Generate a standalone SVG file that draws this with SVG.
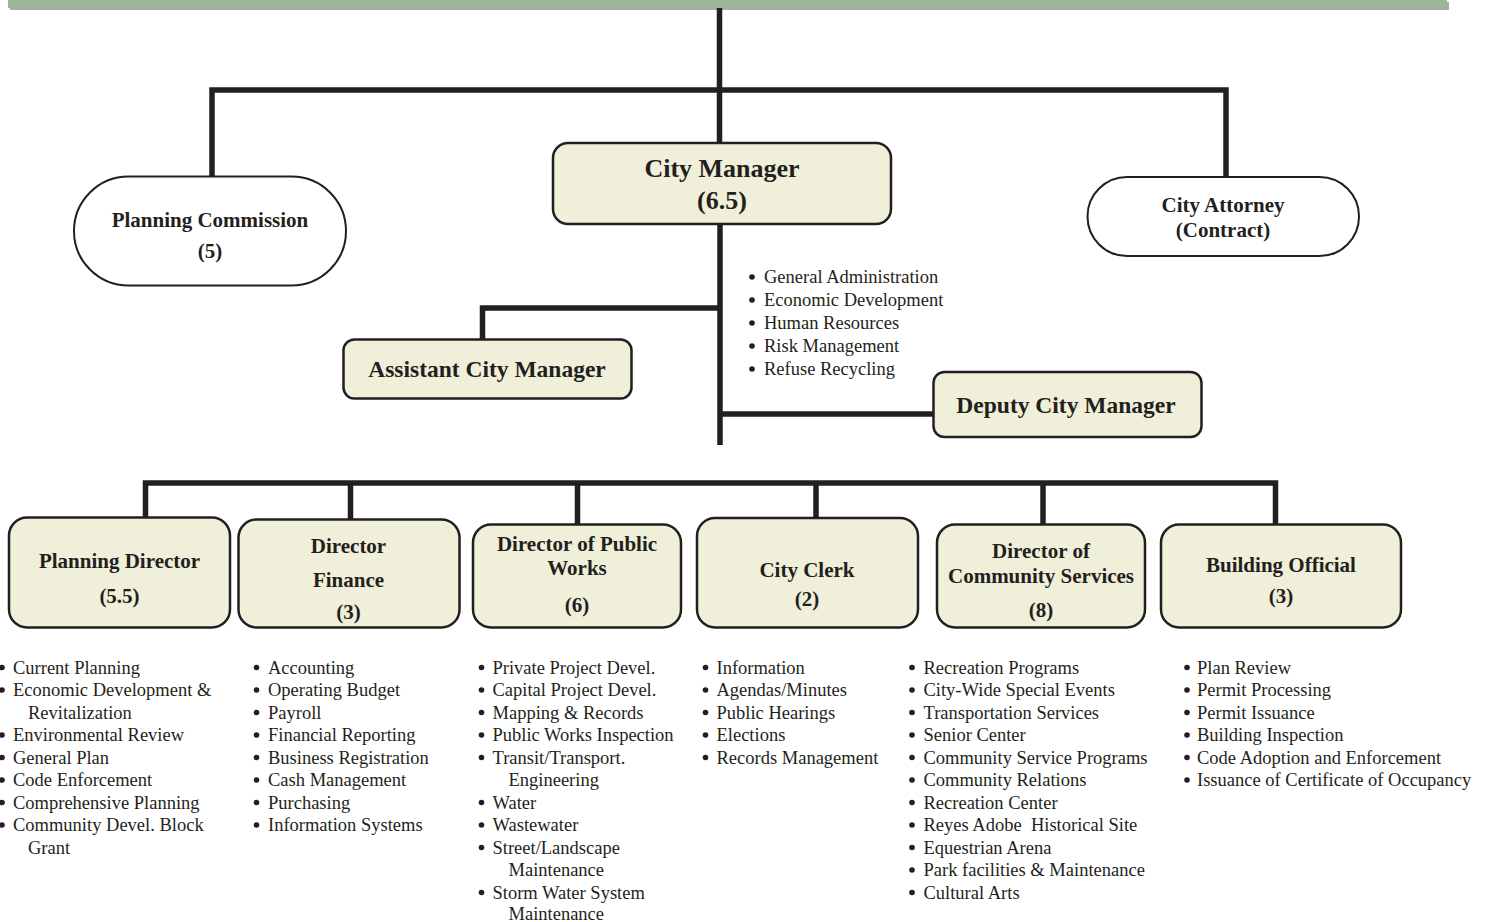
<svg xmlns="http://www.w3.org/2000/svg" width="1485" height="922" viewBox="0 0 1485 922">
<style>
.box{fill:#f0efd9;stroke:#231f20;stroke-width:2.5}
.oval{fill:#ffffff;stroke:#231f20;stroke-width:2}
.conn{fill:none;stroke:#231f20;stroke-width:5.5;stroke-linejoin:miter;stroke-linecap:butt}
.t{font-family:"Liberation Serif","Times New Roman",serif;font-weight:bold;fill:#231f20;text-anchor:middle}
.t21{font-size:21px}
.t235{font-size:23.5px}
.t26{font-size:26px}
.li{font-family:"Liberation Serif","Times New Roman",serif;font-size:18.5px;fill:#231f20}
.bul{fill:#231f20}
</style>
<defs>
<circle id="dot" r="2.8" class="bul"/>
</defs>
<g id="topbar">
<rect x="10" y="2" width="1439" height="8" fill="#a7aca5"/>
<rect x="8" y="0" width="1439" height="8" fill="#9db699"/>
</g>
<g id="connectors">
<path class="conn" d="M719.5,8 V143"/>
<path class="conn" d="M212,177 V90 H1226 V177"/>
<path class="conn" d="M720,224 V445"/>
<path class="conn" d="M720,308 H482.5 V339"/>
<path class="conn" d="M720,414 H933"/>
<path class="conn" d="M145.5,517 V483 H1275.5 V524"/>
<path class="conn" d="M350.5,483 V519"/>
<path class="conn" d="M577.5,483 V524"/>
<path class="conn" d="M816,483 V518"/>
<path class="conn" d="M1043,483 V524"/>
</g>
<g id="planning-commission">
<rect class="oval" x="74" y="176.5" width="272" height="109" rx="54.5" ry="54.5"/>
<text class="t t21" x="210" y="227">Planning Commission</text>
<text class="t t21" x="210" y="258">(5)</text>
</g>
<g id="city-manager">
<rect class="box" x="553" y="143" width="338" height="81" rx="15" ry="15"/>
<text class="t t26" x="722" y="177">City Manager</text>
<text class="t t26" x="722" y="209">(6.5)</text>
</g>
<g id="city-attorney">
<rect class="oval" x="1087.5" y="177" width="271.5" height="79" rx="39.5" ry="39.5"/>
<text class="t t21" x="1223" y="212">City Attorney</text>
<text class="t t21" x="1223" y="237">(Contract)</text>
</g>
<g id="cm-duties">
<use href="#dot" x="752" y="277"/><text class="li" x="764" y="283">General Administration</text>
<use href="#dot" x="752" y="300"/><text class="li" x="764" y="306">Economic Development</text>
<use href="#dot" x="752" y="323"/><text class="li" x="764" y="329">Human Resources</text>
<use href="#dot" x="752" y="346"/><text class="li" x="764" y="352">Risk Management</text>
<use href="#dot" x="752" y="369"/><text class="li" x="764" y="375">Refuse Recycling</text>
</g>
<g id="assistant-city-manager">
<rect class="box" x="343.5" y="339.5" width="288" height="59" rx="11" ry="11"/>
<text class="t t235" x="487" y="377">Assistant City Manager</text>
</g>
<g id="deputy-city-manager">
<rect class="box" x="933.5" y="372" width="268" height="65" rx="11" ry="11"/>
<text class="t t235" x="1066" y="413">Deputy City Manager</text>
</g>
<g id="planning-director">
<rect class="box" x="9" y="517.5" width="221" height="110" rx="18" ry="18"/>
<text class="t t21" x="119.5" y="568">Planning Director</text>
<text class="t t21" x="119.5" y="603">(5.5)</text>
</g>
<g id="director-finance">
<rect class="box" x="238.5" y="519.5" width="221" height="108" rx="18" ry="18"/>
<text class="t t21" x="348.5" y="553">Director</text>
<text class="t t21" x="348.5" y="587">Finance</text>
<text class="t t21" x="348.5" y="619">(3)</text>
</g>
<g id="director-public-works">
<rect class="box" x="473" y="524.5" width="208" height="103" rx="18" ry="18"/>
<text class="t t21" x="577" y="551">Director of Public</text>
<text class="t t21" x="577" y="575">Works</text>
<text class="t t21" x="577" y="612">(6)</text>
</g>
<g id="city-clerk">
<rect class="box" x="697" y="518" width="221" height="109.5" rx="18" ry="18"/>
<text class="t t21" x="807" y="577">City Clerk</text>
<text class="t t21" x="807" y="606">(2)</text>
</g>
<g id="director-community-services">
<rect class="box" x="937" y="524.5" width="208" height="103" rx="18" ry="18"/>
<text class="t t21" x="1041" y="558">Director of</text>
<text class="t t21" x="1041" y="583">Community Services</text>
<text class="t t21" x="1041" y="617">(8)</text>
</g>
<g id="building-official">
<rect class="box" x="1161" y="524.5" width="240" height="103" rx="18" ry="18"/>
<text class="t t21" x="1281" y="572">Building Official</text>
<text class="t t21" x="1281" y="603">(3)</text>
</g>
<g id="planning-duties">
<use href="#dot" x="2" y="667.5"/><text class="li" x="13" y="673.5">Current Planning</text>
<use href="#dot" x="2" y="690"/><text class="li" x="13" y="696">Economic Development &amp;</text>
<text class="li" x="28" y="718.5">Revitalization</text>
<use href="#dot" x="2" y="735"/><text class="li" x="13" y="741">Environmental Review</text>
<use href="#dot" x="2" y="757.5"/><text class="li" x="13" y="763.5">General Plan</text>
<use href="#dot" x="2" y="780"/><text class="li" x="13" y="786">Code Enforcement</text>
<use href="#dot" x="2" y="802.5"/><text class="li" x="13" y="808.5">Comprehensive Planning</text>
<use href="#dot" x="2" y="825"/><text class="li" x="13" y="831">Community Devel. Block</text>
<text class="li" x="28" y="853.5">Grant</text>
</g>
<g id="finance-duties">
<use href="#dot" x="256.5" y="667.5"/><text class="li" x="268" y="673.5">Accounting</text>
<use href="#dot" x="256.5" y="690"/><text class="li" x="268" y="696">Operating Budget</text>
<use href="#dot" x="256.5" y="712.5"/><text class="li" x="268" y="718.5">Payroll</text>
<use href="#dot" x="256.5" y="735"/><text class="li" x="268" y="741">Financial Reporting</text>
<use href="#dot" x="256.5" y="757.5"/><text class="li" x="268" y="763.5">Business Registration</text>
<use href="#dot" x="256.5" y="780"/><text class="li" x="268" y="786">Cash Management</text>
<use href="#dot" x="256.5" y="802.5"/><text class="li" x="268" y="808.5">Purchasing</text>
<use href="#dot" x="256.5" y="825"/><text class="li" x="268" y="831">Information Systems</text>
</g>
<g id="public-works-duties">
<use href="#dot" x="481.5" y="667.5"/><text class="li" x="492.5" y="673.5">Private Project Devel.</text>
<use href="#dot" x="481.5" y="690"/><text class="li" x="492.5" y="696">Capital Project Devel.</text>
<use href="#dot" x="481.5" y="712.5"/><text class="li" x="492.5" y="718.5">Mapping &amp; Records</text>
<use href="#dot" x="481.5" y="735"/><text class="li" x="492.5" y="741">Public Works Inspection</text>
<use href="#dot" x="481.5" y="757.5"/><text class="li" x="492.5" y="763.5">Transit/Transport.</text>
<text class="li" x="508.5" y="786">Engineering</text>
<use href="#dot" x="481.5" y="802.5"/><text class="li" x="492.5" y="808.5">Water</text>
<use href="#dot" x="481.5" y="825"/><text class="li" x="492.5" y="831">Wastewater</text>
<use href="#dot" x="481.5" y="847.5"/><text class="li" x="492.5" y="853.5">Street/Landscape</text>
<text class="li" x="508.5" y="876">Maintenance</text>
<use href="#dot" x="481.5" y="892.5"/><text class="li" x="492.5" y="898.5">Storm Water System</text>
<text class="li" x="508.5" y="920">Maintenance</text>
</g>
<g id="city-clerk-duties">
<use href="#dot" x="705.5" y="667.5"/><text class="li" x="716.5" y="673.5">Information</text>
<use href="#dot" x="705.5" y="690"/><text class="li" x="716.5" y="696">Agendas/Minutes</text>
<use href="#dot" x="705.5" y="712.5"/><text class="li" x="716.5" y="718.5">Public Hearings</text>
<use href="#dot" x="705.5" y="735"/><text class="li" x="716.5" y="741">Elections</text>
<use href="#dot" x="705.5" y="757.5"/><text class="li" x="716.5" y="763.5">Records Management</text>
</g>
<g id="community-services-duties">
<use href="#dot" x="912" y="667.5"/><text class="li" x="923.5" y="673.5">Recreation Programs</text>
<use href="#dot" x="912" y="690"/><text class="li" x="923.5" y="696">City-Wide Special Events</text>
<use href="#dot" x="912" y="712.5"/><text class="li" x="923.5" y="718.5">Transportation Services</text>
<use href="#dot" x="912" y="735"/><text class="li" x="923.5" y="741">Senior Center</text>
<use href="#dot" x="912" y="757.5"/><text class="li" x="923.5" y="763.5">Community Service Programs</text>
<use href="#dot" x="912" y="780"/><text class="li" x="923.5" y="786">Community Relations</text>
<use href="#dot" x="912" y="802.5"/><text class="li" x="923.5" y="808.5">Recreation Center</text>
<use href="#dot" x="912" y="825"/><text class="li" x="923.5" y="831" xml:space="preserve">Reyes Adobe  Historical Site</text>
<use href="#dot" x="912" y="847.5"/><text class="li" x="923.5" y="853.5">Equestrian Arena</text>
<use href="#dot" x="912" y="870"/><text class="li" x="923.5" y="876">Park facilities &amp; Maintenance</text>
<use href="#dot" x="912" y="892.5"/><text class="li" x="923.5" y="898.5">Cultural Arts</text>
</g>
<g id="building-duties">
<use href="#dot" x="1187" y="667.5"/><text class="li" x="1197" y="673.5">Plan Review</text>
<use href="#dot" x="1187" y="690"/><text class="li" x="1197" y="696">Permit Processing</text>
<use href="#dot" x="1187" y="712.5"/><text class="li" x="1197" y="718.5">Permit Issuance</text>
<use href="#dot" x="1187" y="735"/><text class="li" x="1197" y="741">Building Inspection</text>
<use href="#dot" x="1187" y="757.5"/><text class="li" x="1197" y="763.5">Code Adoption and Enforcement</text>
<use href="#dot" x="1187" y="780"/><text class="li" x="1197" y="786">Issuance of Certificate of Occupancy</text>
</g>
</svg>
